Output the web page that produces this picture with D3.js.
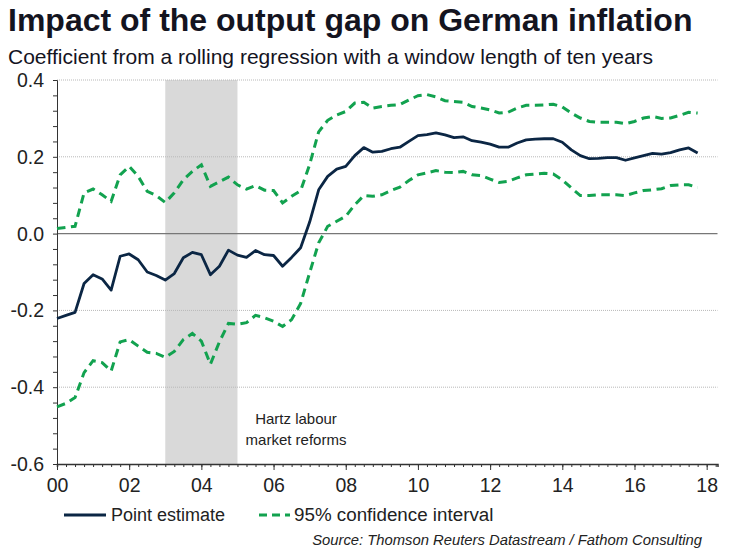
<!DOCTYPE html>
<html><head><meta charset="utf-8">
<script src="https://cdn.jsdelivr.net/npm/d3@7"></script>
<style>body{margin:0;background:#fff}svg{display:block}</style>
</head><body><svg id="c" width="745" height="550"></svg>
<script>
const title = "Impact of the output gap on German inflation";
const subtitle = "Coefficient from a rolling regression with a window length of ten years";
const source = "Source: Thomson Reuters Datastream / Fathom Consulting";
const seriesNames = ["Point estimate", "95% confidence interval"];
const shadeRange = [2003, 2005];
const shadeLabel = ["Hartz labour", "market reforms"];
const firstQuarter = 2000; // quarterly observations from 2000 Q1
const yTicks = [-0.6, -0.4, -0.2, 0.0, 0.2, 0.4];
const xTickYears = [2000, 2002, 2004, 2006, 2008, 2010, 2012, 2014, 2016, 2018];

const pointEstimate = [
 -0.221,-0.213,-0.205,-0.130,-0.107,-0.118,-0.147,-0.059,-0.053,-0.068,-0.100,-0.109,
 -0.121,-0.104,-0.063,-0.049,-0.055,-0.107,-0.085,-0.043,-0.056,-0.062,-0.044,-0.055,
 -0.057,-0.085,-0.062,-0.037, 0.030, 0.114, 0.149, 0.168, 0.175, 0.203, 0.224, 0.212,
  0.214, 0.221, 0.225, 0.240, 0.255, 0.258, 0.262, 0.257, 0.250, 0.252, 0.242, 0.238,
  0.233, 0.225, 0.225, 0.236, 0.244, 0.246, 0.247, 0.247, 0.238, 0.218, 0.203, 0.195,
  0.196, 0.198, 0.198, 0.191, 0.197, 0.203, 0.209, 0.207, 0.211, 0.218, 0.223, 0.210];
const upperCI = [
  0.013, 0.016, 0.019, 0.106, 0.116, 0.101, 0.084, 0.153, 0.175, 0.149, 0.110, 0.099,
  0.081, 0.106, 0.140, 0.162, 0.179, 0.123, 0.135, 0.147, 0.127, 0.116, 0.125, 0.113,
  0.112, 0.080, 0.097, 0.112, 0.180, 0.265, 0.295, 0.309, 0.318, 0.340, 0.342, 0.327,
  0.331, 0.334, 0.336, 0.348, 0.359, 0.362, 0.356, 0.346, 0.344, 0.342, 0.331, 0.327,
  0.322, 0.314, 0.316, 0.327, 0.334, 0.334, 0.335, 0.337, 0.330, 0.314, 0.301, 0.292,
  0.290, 0.290, 0.290, 0.286, 0.292, 0.301, 0.305, 0.300, 0.301, 0.308, 0.316, 0.314];
const lowerCI = [
 -0.451,-0.442,-0.427,-0.362,-0.331,-0.336,-0.358,-0.282,-0.276,-0.293,-0.309,-0.312,
 -0.322,-0.307,-0.276,-0.260,-0.280,-0.340,-0.282,-0.234,-0.236,-0.232,-0.213,-0.219,
 -0.228,-0.242,-0.224,-0.182,-0.102,-0.024, 0.019, 0.032, 0.045, 0.075, 0.099, 0.097,
  0.101, 0.112, 0.121, 0.138, 0.153, 0.158, 0.164, 0.160, 0.159, 0.162, 0.153, 0.151,
  0.142, 0.133, 0.136, 0.145, 0.153, 0.155, 0.157, 0.155, 0.140, 0.119, 0.099, 0.099,
  0.101, 0.101, 0.101, 0.099, 0.106, 0.112, 0.114, 0.117, 0.125, 0.127, 0.127, 0.120];

const dates = pointEstimate.map((_, i) => firstQuarter + i / 4);
const FONT = "'Liberation Sans', Arial, sans-serif";
const navy = "#0b2644", green = "#12a24f";

const svg = d3.select("#c").style("font-family", FONT);
const L = 57, R = 717.5, T = 80, B = 464;
const x = d3.scaleLinear().domain([2000, 2018.3]).range([L, R]);
const y = d3.scaleLinear().domain([-0.6, 0.4]).range([B, T]);

// titles
svg.append("text").attr("x", 8).attr("y", 31).attr("font-size", 32).attr("font-weight", "bold")
  .attr("fill", "#14141f").text(title);
svg.append("text").attr("x", 8).attr("y", 64).attr("font-size", 21).attr("fill", "#14141f").text(subtitle);

// shaded period
svg.append("rect").attr("x", x(shadeRange[0])).attr("y", T)
  .attr("width", x(shadeRange[1]) - x(shadeRange[0])).attr("height", B - T).attr("fill", "#d9d9d9");

// gridlines
svg.append("g").selectAll("line").data(yTicks.filter(d => d !== -0.6 && d !== 0)).join("line")
  .attr("x1", L).attr("x2", R).attr("y1", d => y(d)).attr("y2", d => y(d))
  .attr("stroke", "#b8b8b8").attr("stroke-width", 1).attr("stroke-dasharray", "1,1");
svg.append("line").attr("x1", L).attr("x2", R).attr("y1", y(0)).attr("y2", y(0))
  .attr("stroke", "#777").attr("stroke-width", 1.2);

// annotation
svg.append("text").attr("x", 296).attr("y", 424).attr("text-anchor", "middle").attr("font-size", 15)
  .attr("fill", "#222").selectAll("tspan").data(shadeLabel).join("tspan")
  .attr("x", 296).attr("dy", (d, i) => i ? 20.5 : 0).text(d => d);

// axes
const minorY = d3.range(-0.6, 0.4001, 0.04);
const yAxis = svg.append("g").attr("transform", `translate(${L},0)`)
  .call(d3.axisLeft(y).tickValues(minorY).tickSize(4).tickFormat(""));
yAxis.select(".domain").attr("stroke", "#333");
yAxis.selectAll(".tick line").attr("stroke", "#333");
svg.append("g").selectAll("text").data(yTicks).join("text")
  .attr("x", 44).attr("y", d => y(d)).attr("dy", "0.36em").attr("text-anchor", "end")
  .attr("font-size", 19.5).attr("fill", "#222").text(d => d3.format(".1f")(d).replace("−", "-"));

const minorX = d3.range(2000, 2018.26, 0.25);
const xAxis = svg.append("g").attr("transform", `translate(0,${B})`)
  .call(d3.axisBottom(x).tickValues(minorX).tickSize(3).tickFormat(""));
xAxis.select(".domain").attr("stroke", "#333").attr("stroke-width", 1.5);
xAxis.selectAll(".tick line").attr("stroke", "#333");
const xMaj = svg.append("g").attr("transform", `translate(0,${B})`)
  .call(d3.axisBottom(x).tickValues(xTickYears).tickSize(6).tickPadding(8)
    .tickFormat(d => String(d % 100).padStart(2, "0")));
xMaj.select(".domain").remove();
xMaj.selectAll(".tick line").attr("stroke", "#333");
xMaj.selectAll(".tick text").attr("font-size", 19.5).attr("fill", "#222").attr("font-family", FONT);

// lines
const line = d3.line().x((d, i) => x(dates[i])).y(d => y(d));
[upperCI, lowerCI].forEach(s => svg.append("path").attr("d", line(s)).attr("fill", "none")
  .attr("stroke", green).attr("stroke-width", 3).attr("stroke-dasharray", "8.5,5.5"));
svg.append("path").attr("d", line(pointEstimate)).attr("fill", "none")
  .attr("stroke", navy).attr("stroke-width", 2.8).attr("stroke-linejoin", "round");

// legend
const lg = svg.append("g");
lg.append("line").attr("x1", 64).attr("x2", 106).attr("y1", 515).attr("y2", 515)
  .attr("stroke", navy).attr("stroke-width", 3);
lg.append("text").attr("x", 111).attr("y", 521).attr("font-size", 18).attr("fill", "#222").text(seriesNames[0]);
lg.append("line").attr("x1", 259).attr("x2", 290).attr("y1", 515).attr("y2", 515)
  .attr("stroke", green).attr("stroke-width", 3).attr("stroke-dasharray", "8,5");
lg.append("text").attr("x", 294).attr("y", 521).attr("font-size", 18.8).attr("fill", "#222").text(seriesNames[1]);

svg.append("text").attr("x", 702).attr("y", 545).attr("text-anchor", "end").attr("font-size", 14.8)
  .attr("font-style", "italic").attr("fill", "#222").text(source);
</script></body></html>
